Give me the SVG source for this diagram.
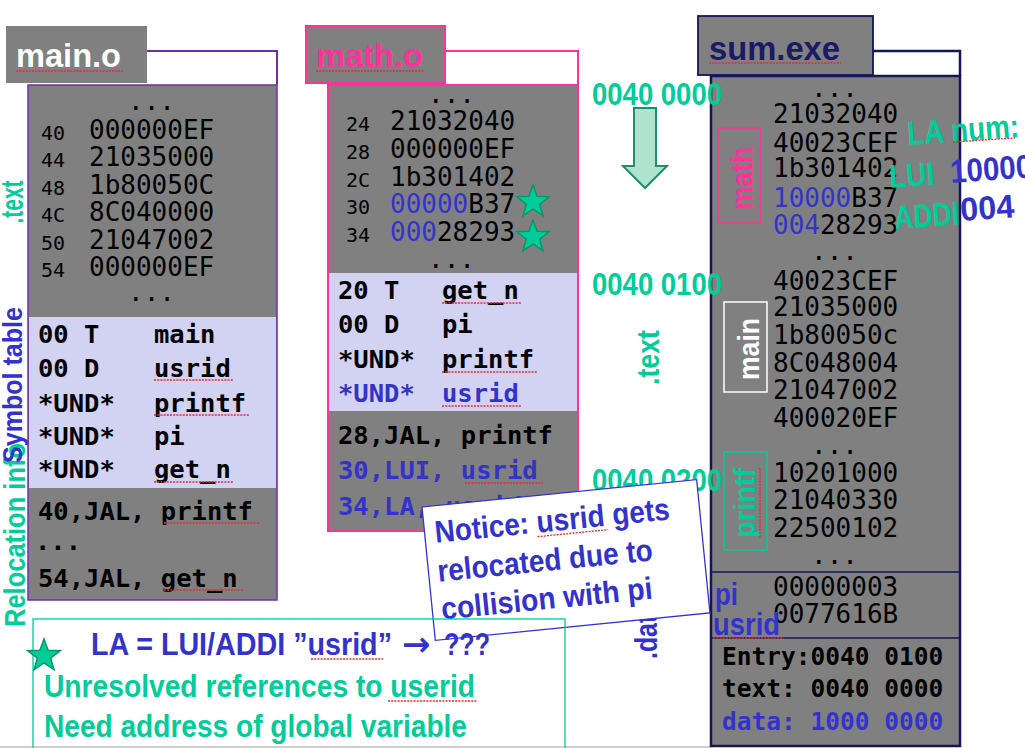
<svg xmlns="http://www.w3.org/2000/svg" width="1025" height="748" viewBox="0 0 1025 748">
<defs>
<style>
.mono{font-family:"DejaVu Sans Mono","Liberation Mono",monospace;fill:#000}
.hex{font-size:26px}
.adr{font-size:20px}
.sym{font-size:25.5px;font-weight:bold}
.ent{font-size:24.5px;font-weight:bold}
.sans{font-family:"Liberation Sans",Arial,sans-serif;font-weight:bold}
.g{fill:#00cc99}
.b{fill:#3333cc}
.p{fill:#ff3399}
.w{fill:#ffffff}
.gray{fill:#808080}
.lav{fill:#d2d2f2}
.sq{stroke:#e52b2b;stroke-width:1.3;stroke-dasharray:2 1.2;fill:none}
.star{fill:#00cc99;stroke:#00996b;stroke-width:1.5}
</style>
<polygon id="star" points="0,-17 4.11,-5.66 16.17,-5.25 6.66,2.16 9.99,13.75 0,7 -9.99,13.75 -6.66,2.16 -16.17,-5.25 -4.11,-5.66"/>
</defs>
<rect x="0" y="0" width="1025" height="748" fill="#ffffff"/>
<line x1="0" y1="747" x2="711" y2="747" stroke="#cfcfcf" stroke-width="2"/>

<!-- left vertical labels -->
<g id="left-labels">
<text class="sans g" font-size="31" text-anchor="middle" textLength="43" lengthAdjust="spacingAndGlyphs" transform="translate(23,202) rotate(-90)">.text</text>
<text class="sans g" font-size="30" text-anchor="middle" textLength="184" lengthAdjust="spacingAndGlyphs" transform="translate(24.5,535) rotate(-90)">Relocation info</text>
<text class="sans b" font-size="28" text-anchor="middle" textLength="156" lengthAdjust="spacingAndGlyphs" transform="translate(22,385) rotate(-90)">Symbol table</text>
</g>

<!-- main.o -->
<g id="main-o">
<rect x="6" y="26" width="141" height="57" class="gray"/>
<text x="16" y="67" class="sans w" font-size="34" textLength="105" lengthAdjust="spacingAndGlyphs">main.o</text>
<line class="sq" x1="16" y1="71" x2="123" y2="71"/>
<polyline points="147,51 277,51 277,85" fill="none" stroke="#7030a0" stroke-width="2"/>
<rect x="28" y="85" width="249" height="515" class="gray" stroke="#7030a0" stroke-width="1.5"/>
<rect x="29" y="317" width="247" height="171" class="lav"/>
<text class="mono hex" x="128" y="110">...</text>
<text class="mono adr" x="41" y="139.5">40</text><text class="mono hex" x="89" y="138.5">000000EF</text>
<text class="mono adr" x="41" y="167">44</text><text class="mono hex" x="89" y="166">21035000</text>
<text class="mono adr" x="41" y="194.5">48</text><text class="mono hex" x="89" y="193.5">1b80050C</text>
<text class="mono adr" x="41" y="222">4C</text><text class="mono hex" x="89" y="221">8C040000</text>
<text class="mono adr" x="41" y="249.5">50</text><text class="mono hex" x="89" y="248.5">21047002</text>
<text class="mono adr" x="41" y="277">54</text><text class="mono hex" x="89" y="276">000000EF</text>
<text class="mono hex" x="128" y="301">...</text>
<text class="mono sym" x="38" y="343">00 T</text><text class="mono sym" x="154" y="343">main</text>
<text class="mono sym" x="38" y="377">00 D</text><text class="mono sym" x="154" y="377">usrid</text>
<text class="mono sym" x="38" y="412">*UND*</text><text class="mono sym" x="154" y="412">printf</text>
<text class="mono sym" x="38" y="445">*UND*</text><text class="mono sym" x="154" y="445">pi</text>
<text class="mono sym" x="38" y="478">*UND*</text><text class="mono sym" x="154" y="478">get_n</text>
<line class="sq" x1="154" y1="380" x2="233" y2="380"/>
<line class="sq" x1="154" y1="415" x2="250" y2="415"/>
<line class="sq" x1="154" y1="482" x2="233" y2="482"/>
<text class="mono sym" x="38" y="520">40,JAL, printf</text>
<text class="mono sym" x="35" y="550">...</text>
<text class="mono sym" x="38" y="587">54,JAL, get_n</text>
<line class="sq" x1="164" y1="523" x2="260" y2="523"/>
<line class="sq" x1="164" y1="590" x2="244" y2="590"/>
</g>

<!-- math.o -->
<g id="math-o">
<rect x="306" y="26" width="139" height="57" class="gray" stroke="#ff3399" stroke-width="2"/>
<text x="316" y="67" class="sans p" font-size="34" textLength="107" lengthAdjust="spacingAndGlyphs">math.o</text>
<line class="sq" x1="316" y1="71" x2="424" y2="71"/>
<polyline points="445,51 578,51 578,85" fill="none" stroke="#ff3399" stroke-width="2"/>
<rect x="328" y="85" width="250" height="446" class="gray" stroke="#ff3399" stroke-width="2"/>
<rect x="329" y="273" width="248" height="138" class="lav"/>
<text class="mono hex" x="428" y="103">...</text>
<text class="mono adr" x="346" y="131">24</text><text class="mono hex" x="390" y="130">21032040</text>
<text class="mono adr" x="346" y="159">28</text><text class="mono hex" x="390" y="158">000000EF</text>
<text class="mono adr" x="346" y="186.5">2C</text><text class="mono hex" x="390" y="185.5">1b301402</text>
<text class="mono adr" x="346" y="214">30</text><text class="mono hex" x="390" y="213"><tspan class="b">00000</tspan>B37</text>
<text class="mono adr" x="346" y="242">34</text><text class="mono hex" x="390" y="241"><tspan class="b">000</tspan>28293</text>
<use href="#star" class="star" x="533" y="202"/>
<use href="#star" class="star" x="533" y="237"/>
<text class="mono hex" x="428" y="268">...</text>
<text class="mono sym" x="338" y="299">20 T</text><text class="mono sym" x="442" y="299">get_n</text>
<text class="mono sym" x="338" y="333">00 D</text><text class="mono sym" x="442" y="333">pi</text>
<text class="mono sym" x="338" y="368">*UND*</text><text class="mono sym" x="442" y="368">printf</text>
<text class="mono sym b" x="338" y="402">*UND*</text><text class="mono sym b" x="442" y="402">usrid</text>
<line class="sq" x1="442" y1="303" x2="521" y2="303"/>
<line class="sq" x1="442" y1="372" x2="537" y2="372"/>
<line class="sq" x1="442" y1="406" x2="521" y2="406"/>
<text class="mono sym" x="338" y="444">28,JAL, printf</text>
<text class="mono sym b" x="338" y="479">30,LUI, usrid</text>
<text class="mono sym b" x="338" y="515">34,LA, usrid</text>
<line class="sq" x1="465" y1="483" x2="543" y2="483"/>
</g>

<!-- sum.exe -->
<g id="sum-exe">
<rect x="698" y="16" width="175" height="59" class="gray" stroke="#161655" stroke-width="1.8"/>
<text x="709" y="60" class="sans" fill="#1a1a66" font-size="34" textLength="131" lengthAdjust="spacingAndGlyphs">sum.exe</text>
<line class="sq" x1="709" y1="63" x2="841" y2="63"/>
<polyline points="873,51 960,51 960,76" fill="none" stroke="#161655" stroke-width="2.5"/>
<rect x="711" y="76" width="249" height="670" class="gray" stroke="#161655" stroke-width="2.5"/>
<line x1="711" y1="572" x2="960" y2="572" stroke="#161655" stroke-width="1.5"/>
<line x1="711" y1="638" x2="960" y2="638" stroke="#161655" stroke-width="1.5"/>
<text class="mono hex" x="811" y="97">...</text>
<text class="mono hex" x="773" y="123">21032040</text>
<text class="mono hex" x="773" y="152">40023CEF</text>
<text class="mono hex" x="773" y="177">1b301402</text>
<text class="mono hex" x="773" y="207"><tspan class="b">10000</tspan>B37</text>
<text class="mono hex" x="773" y="234"><tspan class="b">004</tspan>28293</text>
<text class="mono hex" x="811" y="260">...</text>
<text class="mono hex" x="773" y="290">40023CEF</text>
<text class="mono hex" x="773" y="316">21035000</text>
<text class="mono hex" x="773" y="344">1b80050c</text>
<text class="mono hex" x="773" y="372">8C048004</text>
<text class="mono hex" x="773" y="399">21047002</text>
<text class="mono hex" x="773" y="427">400020EF</text>
<text class="mono hex" x="811" y="454">...</text>
<text class="mono hex" x="773" y="482">10201000</text>
<text class="mono hex" x="773" y="509">21040330</text>
<text class="mono hex" x="773" y="537">22500102</text>
<text class="mono hex" x="811" y="564">...</text>
<text class="mono hex" x="773" y="596">00000003</text>
<text class="mono hex" x="773" y="623">0077616B</text>
<text class="mono ent" x="722" y="665">Entry:0040 0100</text>
<text class="mono ent" x="722" y="697">text: 0040 0000</text>
<text class="mono ent b" x="722" y="730">data: 1000 0000</text>
<rect x="718" y="128" width="43" height="95" fill="none" stroke="#ff3399" stroke-width="1.5"/>
<text class="sans p" font-size="31" text-anchor="middle" textLength="63" lengthAdjust="spacingAndGlyphs" transform="translate(753,178.5) rotate(-90)">math</text>
<rect x="724" y="302" width="43" height="90" fill="none" stroke="#ffffff" stroke-width="1.5"/>
<text class="sans w" font-size="29" text-anchor="middle" textLength="62" lengthAdjust="spacingAndGlyphs" transform="translate(759,349) rotate(-90)">main</text>
<rect x="724" y="452" width="43" height="98" fill="none" stroke="#00cc99" stroke-width="1.5"/>
<text class="sans g" font-size="29" text-anchor="middle" textLength="70" lengthAdjust="spacingAndGlyphs" transform="translate(755,503) rotate(-90)">printf</text>
<line class="sq" x1="760" y1="468" x2="760" y2="538"/>
<text class="sans b" x="715" y="605" font-size="31" textLength="23" lengthAdjust="spacingAndGlyphs">pi</text>
<text class="sans b" x="713" y="635" font-size="31" textLength="67" lengthAdjust="spacingAndGlyphs">usrid</text>
<line class="sq" x1="713" y1="638" x2="784" y2="638"/>
</g>

<!-- middle address labels -->
<g id="addresses">
<text class="sans g" x="592" y="105" font-size="31" textLength="130" lengthAdjust="spacingAndGlyphs">0040 0000</text>
<polygon points="634,108 656,108 656,166 667,166 645,188 623,166 634,166" fill="#b0e3cf" stroke="#1f8f6a" stroke-width="2"/>
<text class="sans g" x="592" y="295" font-size="31" textLength="130" lengthAdjust="spacingAndGlyphs">0040 0100</text>
<text class="sans g" font-size="31" text-anchor="middle" textLength="55" lengthAdjust="spacingAndGlyphs" transform="translate(659,357.5) rotate(-90)">.text</text>
<text class="sans g" x="592" y="491" font-size="31" textLength="130" lengthAdjust="spacingAndGlyphs">0040 0200</text>
<text class="sans b" font-size="31" textLength="58" lengthAdjust="spacingAndGlyphs" transform="translate(657,659) rotate(-90)">.data</text>
</g>

<!-- notice -->
<g id="notice" transform="translate(422,507) rotate(-5.7)">
<rect x="0" y="0" width="276" height="134" fill="#ffffff" stroke="#3333cc" stroke-width="1.3"/>
<text class="sans b" x="10" y="37" font-size="31" textLength="236" lengthAdjust="spacingAndGlyphs">Notice: usrid gets</text>
<text class="sans b" x="9" y="76" font-size="31" textLength="216" lengthAdjust="spacingAndGlyphs">relocated due to</text>
<text class="sans b" x="9" y="114" font-size="31" textLength="212" lengthAdjust="spacingAndGlyphs">collision with pi</text>
<line class="sq" x1="112" y1="41" x2="183" y2="41"/>
</g>

<!-- LA num note -->
<g id="la-num">
<text class="sans g" font-size="33" textLength="112" lengthAdjust="spacingAndGlyphs" transform="translate(908,145) rotate(-4)">LA num:</text>
<line class="sq" x1="953" y1="142" x2="1015" y2="138"/>
<text class="sans g" font-size="33" textLength="45" lengthAdjust="spacingAndGlyphs" transform="translate(890,188) rotate(-4)">LUI</text>
<text class="sans b" font-size="33" textLength="82" lengthAdjust="spacingAndGlyphs" transform="translate(951,183) rotate(-4)">10000</text>
<text class="sans g" font-size="33" textLength="65" lengthAdjust="spacingAndGlyphs" transform="translate(895,229) rotate(-4)">ADDI</text>
<text class="sans b" font-size="33" textLength="54" lengthAdjust="spacingAndGlyphs" transform="translate(961,221) rotate(-4)">004</text>
</g>

<!-- bottom note -->
<g id="bottom-note">
<rect x="33" y="619" width="532" height="140" fill="none" stroke="#00cc99" stroke-width="1.3"/>
<use href="#star" class="star" x="44" y="656"/>
<text class="sans b" x="91" y="655" font-size="31" textLength="301" lengthAdjust="spacingAndGlyphs">LA = LUI/ADDI  ”usrid”</text>
<text x="402" y="656" font-family="'DejaVu Sans',sans-serif" font-weight="bold" font-size="34" class="b">→</text>
<text class="sans b" x="444" y="655" font-size="31" textLength="46" lengthAdjust="spacingAndGlyphs">???</text>
<line class="sq" x1="311" y1="659" x2="383" y2="659"/>
<text class="sans g" x="44" y="697" font-size="31" textLength="431" lengthAdjust="spacingAndGlyphs">Unresolved references to userid</text>
<line class="sq" x1="388" y1="701" x2="477" y2="701"/>
<text class="sans g" x="44" y="737" font-size="31" textLength="423" lengthAdjust="spacingAndGlyphs">Need address of global variable</text>
</g>
</svg>
